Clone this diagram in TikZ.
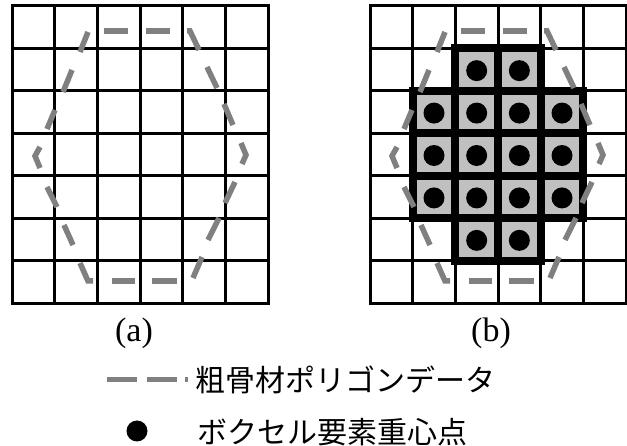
\documentclass[tikz,border=0pt]{standalone}
\usepackage{fontspec}
\setmainfont{Liberation Serif}
\newfontfamily\jpfont{Noto Sans CJK JP}
\definecolor{polygray}{HTML}{808080}
\definecolor{voxgray}{HTML}{C0C0C0}
\begin{document}
\begin{tikzpicture}[x=1pt,y=-1pt,
  gridline/.style={line width=3pt, draw=black, line cap=rect},
  polyline/.style={line width=5.5pt, draw=polygray, line cap=butt, line join=miter},
  voxel/.style={fill=voxgray, draw=black, line width=8pt},
  centroid/.style={fill=black, circle, inner sep=0pt, minimum size=21pt},
  caption/.style={font=\fontsize{34}{40}\selectfont, inner sep=0pt},
  legendtext/.style={font=\jpfont\fontsize{30}{36}\selectfont, inner sep=0pt, anchor=west},
  legenddash/.style={line width=5pt, draw=polygray, dash pattern=on 30pt off 10pt on 30pt off 8pt on 3pt off 20pt}
]
\useasboundingbox (0,0) rectangle (627,446);
\fill[white] (0,0) rectangle (627,446);
% grids
\foreach \ox in {12,370}{
  \foreach \i in {0,...,6}
    \draw[gridline] ({\ox+\i*42.67},6) -- ({\ox+\i*42.67},303);
  \foreach \j in {0,...,7}
    \draw[gridline] (\ox,{6+\j*42.43}) -- ({\ox+256},{6+\j*42.43});
}
% voxels (right grid)
\foreach \r/\c in {1/2,1/3,2/1,2/2,2/3,2/4,3/1,3/2,3/3,3/4,4/1,4/2,4/3,4/4,5/2,5/3}{
  \draw[voxel] ({370+\c*42.67},{6+\r*42.43}) rectangle ({370+(\c+1)*42.67},{6+(\r+1)*42.43});
}
\foreach \r/\c in {1/2,1/3,2/1,2/2,2/3,2/4,3/1,3/2,3/3,3/4,4/1,4/2,4/3,4/4,5/2,5/3}{
  \node[centroid] (v\r\c) at ({370+(\c+0.5)*42.67},{6+(\r+0.5)*42.43+1}) {};
}
% aggregate polygons (dashed outline)
\foreach \sx in {0,357}{
\begin{scope}[xshift=\sx pt]
  \draw[polyline] (104,31) -- (128,31);
  \draw[polyline] (146,31) -- (170,31);
  \draw[polyline] (187,31) -- (190,31) -- (199,50);
  \draw[polyline] (207,67) -- (217,88);
  \draw[polyline] (224,104) -- (233,125);
  \draw[polyline] (241,143) -- (246,155) -- (242,164);
  \draw[polyline] (235,182) -- (225,203);
  \draw[polyline] (219,218) -- (208,240);
  \draw[polyline] (202,257) -- (193,278);
  \draw[polyline] (177,281) -- (152,281);
  \draw[polyline] (135,281) -- (112,281);
  \draw[polyline] (93,281) -- (88,281) -- (80,263);
  \draw[polyline] (73,245) -- (64,225);
  \draw[polyline] (57,207) -- (47,187);
  \draw[polyline] (40,168) -- (35,156) -- (40,147);
  \draw[polyline] (47,129) -- (55,110);
  \draw[polyline] (63,92) -- (72,70);
  \draw[polyline] (80,52) -- (88,32);
\end{scope}
}
% captions
\node[caption] (capa) at (134,333) {(a)};
\node[caption] (capb) at (491,333) {(b)};
% legend
\coordinate (l1s) at (107,380);
\coordinate (l1e) at (188,380);
\draw[legenddash] (l1s) -- (l1e);
\node[legendtext] (leg1) at (195,380) {粗骨材ポリゴンデータ};
\node[centroid] (legdot) at (137,431) {};
\node[legendtext] (leg2) at (197,432) {ボクセル要素重心点};
\end{tikzpicture}
\end{document}
